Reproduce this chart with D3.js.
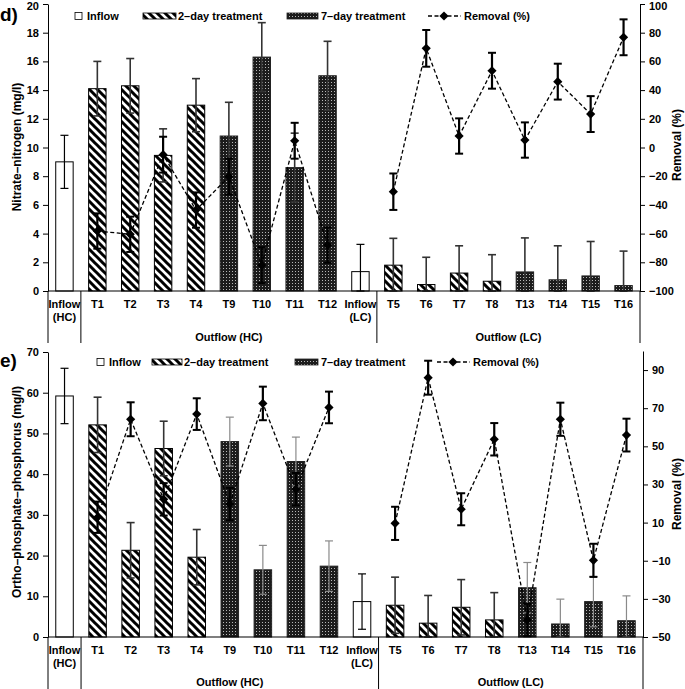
<!DOCTYPE html>
<html><head><meta charset="utf-8">
<script src="https://cdn.jsdelivr.net/npm/d3@7"></script>
<style>
html,body{margin:0;padding:0;background:#fff;}
svg text{font-family:"Liberation Sans",Arial,sans-serif;font-weight:bold;fill:#000;}
</style></head>
<body>
<svg id="chart" width="685" height="689"></svg>
<script>
// ---------- DATA ----------
const categories = ["Inflow (HC)","T1","T2","T3","T4","T9","T10","T11","T12","Inflow (LC)","T5","T6","T7","T8","T13","T14","T15","T16"];
const treatment  = ["inflow","2d","2d","2d","2d","7d","7d","7d","7d","inflow","2d","2d","2d","2d","7d","7d","7d","7d"];
const groupLabels = ["Outflow (HC)","Outflow (LC)"];

const nitrate      = [9.0,14.1,14.3,9.45,12.95,10.8,16.3,8.6,15.0,1.35,1.8,0.45,1.25,0.68,1.33,0.78,1.05,0.38];
const nitrateSD    = [1.85,1.9,1.9,1.85,1.85,2.35,2.4,2.4,2.4,1.9,1.87,1.9,1.9,1.85,2.37,2.37,2.4,2.4];
const nitrateRem   = [null,-58.2,-60.5,-5.0,-43.6,-20.3,-82.0,4.7,-68.0,null,-30.8,69.1,8.0,53.5,5.2,45.9,23.3,76.8];
const nitrateRemSD = [null,12.3,12.3,12.5,12.3,12.5,12.5,12.5,12.3,null,12.7,12.8,12.3,12.5,12.3,12.5,12.5,12.5];
const nitrateLeftTicks  = [0,2,4,6,8,10,12,14,16,18,20];
const nitrateRightTicks = [-100,-80,-60,-40,-20,0,20,40,60,80,100];

const phosphate      = [59.2,52.1,21.3,46.3,19.6,48.0,16.5,43.1,17.4,8.7,7.8,3.4,7.3,4.2,12.1,3.2,8.7,4.0];
const phosphateSD    = [6.8,6.8,6.8,6.7,6.8,6.0,6.0,6.0,6.2,6.8,6.9,6.8,6.8,6.7,6.2,6.1,6.2,6.1];
const phosphateRem   = [null,12.8,64.2,22.2,66.9,19.7,72.5,27.5,70.4,null,9.6,86.0,17.0,53.7,-41.1,64.2,-9.8,55.9];
const phosphateRemSD = [null,8.2,8.9,8.5,8.3,8.5,8.8,8.5,8.3,null,8.7,8.9,8.4,8.5,8.5,8.7,8.7,8.6];
const phosphateLeftTicks  = [0,10,20,30,40,50,60,70];
const phosphateRightTicks = [-50,-30,-10,10,30,50,70,90];

const legendLabels = ["Inflow","2\u2013day treatment","7\u2013day treatment","Removal (%)"];

// ---------- SETUP ----------
const svg = d3.select("#chart");
const defs = svg.append("defs");
const hatch = defs.append("pattern").attr("id","hatch").attr("patternUnits","userSpaceOnUse")
  .attr("width",8).attr("height",8);
hatch.append("rect").attr("width",8).attr("height",8).attr("fill","#fff");
hatch.append("path").attr("d","M-2,-2 L10,10 M-2,6 L2,10 M6,-2 L10,2")
  .attr("stroke","#000").attr("stroke-width",3);
const dots = defs.append("pattern").attr("id","dots").attr("patternUnits","userSpaceOnUse")
  .attr("width",3).attr("height",3);
dots.append("rect").attr("width",3).attr("height",3).attr("fill","#1c1c1c");
dots.append("rect").attr("x",1).attr("y",1).attr("width",1).attr("height",1).attr("fill","#b8b8b8");

const fillFor = t => t==="inflow" ? "#fff" : (t==="2d" ? "url(#hatch)" : "url(#dots)");
const diamond = "M0,-4.6 L4.6,0 L0,4.6 L-4.6,0 Z";

function drawPanel(cfg){
  const g = svg.append("g");
  const x = d3.scaleBand().domain(categories).range([cfg.x0,cfg.x1]).paddingInner(0.47).paddingOuter(0.235);
  const step = x.step();
  const yL = d3.scaleLinear().domain([cfg.leftTicks[0], cfg.leftTicks[cfg.leftTicks.length-1]]).range([cfg.yBot,cfg.yTopL]);
  const yR = d3.scaleLinear().domain([cfg.rightTicks[0], cfg.rightMax]).range([cfg.yBot,cfg.yTopR]);

  g.selectAll("rect.bar").data(categories).join("rect")
    .attr("x",d=>x(d)).attr("width",x.bandwidth())
    .attr("y",(d,i)=>yL(cfg.values[i])).attr("height",(d,i)=>yL(0)-yL(cfg.values[i]))
    .attr("fill",(d,i)=>fillFor(treatment[i]))
    .attr("stroke",(d,i)=>treatment[i]==="7d"?"#222":"#000").attr("stroke-width",1);

  categories.forEach((c,i)=>{
    const cx = x(c)+x.bandwidth()/2;
    const hi = yL(cfg.values[i]+cfg.sd[i]), lo = yL(Math.max(0,cfg.values[i]-cfg.sd[i]));
    const col = cfg.errColor[treatment[i]], sw = cfg.errWidth[treatment[i]];
    g.append("line").attr("x1",cx).attr("x2",cx).attr("y1",hi).attr("y2",lo).attr("stroke",col).attr("stroke-width",sw);
    g.append("line").attr("x1",cx-4).attr("x2",cx+4).attr("y1",hi).attr("y2",hi).attr("stroke",col).attr("stroke-width",sw);
    g.append("line").attr("x1",cx-4).attr("x2",cx+4).attr("y1",lo).attr("y2",lo).attr("stroke",col).attr("stroke-width",sw);
  });

  const line = d3.line().defined(d=>d.v!==null).x(d=>x(d.c)+x.bandwidth()/2).y(d=>yR(d.v));
  const remData = categories.map((c,i)=>({c, v: cfg.rem[i], e: cfg.remSD[i]}));
  g.append("path").datum(remData).attr("d",line).attr("fill","none")
    .attr("stroke","#000").attr("stroke-width",1.3).attr("stroke-dasharray","4,2.5");
  remData.filter(d=>d.v!==null).forEach(d=>{
    const cx = x(d.c)+x.bandwidth()/2;
    const hi = yR(d.v+d.e), lo = yR(d.v-d.e);
    g.append("line").attr("x1",cx).attr("x2",cx).attr("y1",hi).attr("y2",lo).attr("stroke","#000").attr("stroke-width",2.2);
    g.append("line").attr("x1",cx-4).attr("x2",cx+4).attr("y1",hi).attr("y2",hi).attr("stroke","#000").attr("stroke-width",2);
    g.append("line").attr("x1",cx-4).attr("x2",cx+4).attr("y1",lo).attr("y2",lo).attr("stroke","#000").attr("stroke-width",2);
    g.append("path").attr("d",diamond).attr("transform",`translate(${cx},${yR(d.v)})`).attr("fill","#000");
  });

  const axL = g.append("g").attr("transform",`translate(${cfg.x0},0)`)
    .call(d3.axisLeft(yL).tickValues(cfg.leftTicks).tickSize(5).tickPadding(4).tickSizeOuter(0));
  const axR = g.append("g").attr("transform",`translate(${cfg.x1},0)`)
    .call(d3.axisRight(yR).tickValues(cfg.rightTicks).tickSize(5).tickPadding(4).tickSizeOuter(0));
  [axL,axR].forEach(a=>{
    a.selectAll("text").attr("font-size",11).attr("font-family","Liberation Sans, Arial, sans-serif").attr("font-weight","bold").attr("fill","#000");
    a.selectAll("line").attr("stroke","#000");
    a.select(".domain").attr("stroke","#000");
    // keep the topmost label inside the picture
    a.selectAll(".tick text").filter(function(){ 
      const t = d3.select(this.parentNode).attr("transform");
      const ty = +t.match(/,([\d.\-]+)\)/)[1];
      return ty < 8;
    }).attr("dy","0.5em");
  });
  g.append("line").attr("x1",cfg.x0).attr("x2",cfg.x1).attr("y1",yL(0)).attr("y2",yL(0)).attr("stroke","#000").attr("stroke-width",1.2);

  const sepIdx = [0,1,10,18];
  sepIdx.forEach(k=>{
    const sx = cfg.x0 + k*step;
    g.append("line").attr("x1",sx).attr("x2",sx).attr("y1",yL(0)).attr("y2",yL(0)+cfg.sepLen).attr("stroke","#000").attr("stroke-width",1);
  });

  categories.forEach(c=>{
    const cx = x(c)+x.bandwidth()/2;
    const parts = c.startsWith("Inflow") ? ["Inflow", c.slice(7)] : [c];
    parts.forEach((p,j)=>{
      g.append("text").attr("x",cx).attr("y",yL(0)+17+j*13).attr("text-anchor","middle").attr("font-size",11).text(p);
    });
  });
  const gx1 = (cfg.x0+step + cfg.x0+10*step)/2, gx2 = (cfg.x0+10*step + cfg.x1)/2;
  g.append("text").attr("x",gx1).attr("y",yL(0)+cfg.groupY).attr("text-anchor","middle").attr("font-size",11).text(groupLabels[0]);
  g.append("text").attr("x",gx2).attr("y",yL(0)+cfg.groupY).attr("text-anchor","middle").attr("font-size",11).text(groupLabels[1]);

  g.append("text").attr("transform",`translate(${cfg.titleLX},${cfg.titleLY}) rotate(-90)`).attr("text-anchor","middle").attr("font-size",12).text(cfg.titleL);
  g.append("text").attr("transform",`translate(${cfg.titleRX},${cfg.titleRY}) rotate(-90)`).attr("text-anchor","middle").attr("font-size",12).text("Removal (%)");
  g.append("text").attr("x",0).attr("y",cfg.letterY).attr("font-size",19).text(cfg.letter);

  const L = cfg.legend;
  g.append("rect").attr("x",L.sq).attr("y",L.y-3.5).attr("width",7).attr("height",7).attr("fill","#fff").attr("stroke","#000").attr("stroke-width",0.8);
  g.append("text").attr("x",L.sq+12).attr("y",L.y+4).attr("font-size",11).text(legendLabels[0]);
  g.append("rect").attr("x",L.h0).attr("y",L.y-3).attr("width",L.h1-L.h0).attr("height",6).attr("fill","url(#hatch)").attr("stroke","#000").attr("stroke-width",0.8);
  g.append("text").attr("x",L.h1+2).attr("y",L.y+4).attr("font-size",11).text(legendLabels[1]);
  g.append("rect").attr("x",L.d0).attr("y",L.y-3).attr("width",L.d1-L.d0).attr("height",6).attr("fill","url(#dots)").attr("stroke","#222").attr("stroke-width",0.8);
  g.append("text").attr("x",L.d1+3).attr("y",L.y+4).attr("font-size",11).text(legendLabels[2]);
  g.append("line").attr("x1",L.r0).attr("x2",L.r0+33).attr("y1",L.y).attr("y2",L.y).attr("stroke","#000").attr("stroke-width",1.3).attr("stroke-dasharray","4,2.5");
  g.append("path").attr("d",diamond).attr("transform",`translate(${L.r0+16},${L.y})`).attr("fill","#000");
  g.append("text").attr("x",L.r0+36).attr("y",L.y+4).attr("font-size",11).text(legendLabels[3]);
}

drawPanel({
  x0:48, x1:640, yBot:291, yTopL:4, yTopR:4,
  leftTicks:nitrateLeftTicks, rightTicks:nitrateRightTicks, rightMax:100,
  values:nitrate, sd:nitrateSD, rem:nitrateRem, remSD:nitrateRemSD,
  errColor:{inflow:"#000","2d":"#333","7d":"#333"}, errWidth:{inflow:1.2,"2d":1.6,"7d":1.6},
  sepLen:52, groupY:50,
  titleL:"Nitrate\u2013nitrogen (mg/l)", titleLX:21, titleLY:147, titleRX:681, titleRY:145,
  letter:"d)", letterY:21,
  legend:{y:16, sq:75, h0:143, h1:176, d0:287, d1:318, r0:428}
});
drawPanel({
  x0:48, x1:643, yBot:637, yTopL:352, yTopR:351,
  leftTicks:phosphateLeftTicks, rightTicks:phosphateRightTicks, rightMax:100,
  values:phosphate, sd:phosphateSD, rem:phosphateRem, remSD:phosphateRemSD,
  errColor:{inflow:"#000","2d":"#333","7d":"#8a8a8a"}, errWidth:{inflow:1.2,"2d":1.6,"7d":1.2},
  sepLen:60, groupY:49,
  titleL:"Ortho\u2013phosphate\u2013phosphorus (mg/l)", titleLX:21, titleLY:492, titleRX:681, titleRY:494,
  letter:"e)", letterY:367,
  legend:{y:362, sq:97, h0:152, h1:182, d0:295, d1:318, r0:437}
});
</script>
</body></html>
